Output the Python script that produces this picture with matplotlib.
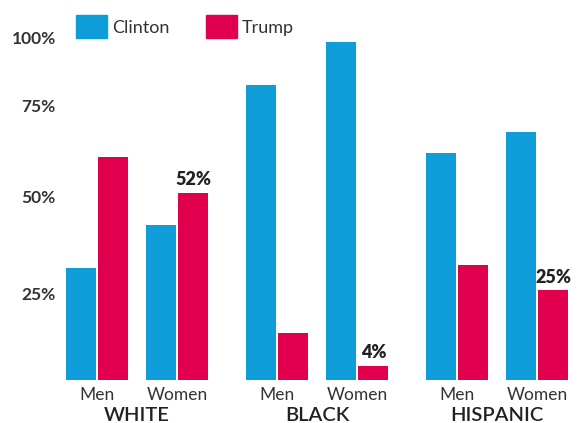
import matplotlib.pyplot as plt
import matplotlib.transforms as mtransforms
from matplotlib.patches import Patch

# 2016 exit poll shares by race and gender
groups = ['WHITE', 'BLACK', 'HISPANIC']
genders = ['Men', 'Women']
clinton = [31, 43, 82, 94, 63, 69]
trump = [62, 52, 13, 4, 32, 25]
callouts = {1: '52%', 3: '4%', 5: '25%'}   # index -> label over the Trump bar
ytick_vals = [25, 50, 75, 100]
ytick_labels = ['25%', '50%', '75%', '100%']

blue = '#0f9dd9'
red = '#e0004d'
plt.rcParams['font.family'] = ['Lato', 'DejaVu Sans']

# pair positions: men/women one unit apart, extra gap between race groups
pos = []
for g in range(len(groups)):
    for k in range(len(genders)):
        pos.append(g * 2.25 + k)

fig = plt.figure(figsize=(5.84, 4.23), dpi=100)
ax = fig.add_axes([60 / 584, 43 / 423, 520 / 584, 360 / 423])

w = 0.375
off = 0.205
ax.bar([p - off for p in pos], clinton, width=w, color=blue)
ax.bar([p + off for p in pos], trump, width=w, color=red)

for i, txt in callouts.items():
    ax.text(pos[i] + off, trump[i] + 1.2, txt, ha='center', va='bottom',
            fontsize=13, fontweight='heavy', color='#222222')

ax.set_xlim(-0.4625, 6.0375)
ax.set_ylim(0, 100)
for s in ax.spines.values():
    s.set_visible(False)

ax.set_yticks(ytick_vals)
ax.set_yticklabels(ytick_labels, fontsize=12.5, fontweight='bold', color='#333333')
ax.tick_params(axis='y', length=0, pad=3)
# labels sit slightly off their gridline positions in the original
shifts = [-3, 4, 4, -18]
for lab, dy in zip(ax.get_yticklabels(), shifts):
    lab.set_transform(lab.get_transform() + mtransforms.ScaledTranslation(0, dy / 100, fig.dpi_scale_trans))

ax.set_xticks(pos)
ax.set_xticklabels(genders * len(groups), fontsize=12.5, color='#333333')
ax.tick_params(axis='x', length=0, pad=5)

for g, name in enumerate(groups):
    ax.text(g * 2.25 + 0.5, -7.5, name, ha='center', va='top', fontsize=14.5,
            fontweight='semibold', color='#222222', transform=ax.transData, clip_on=False)

handles = [Patch(color=blue, label='Clinton'), Patch(color=red, label='Trump')]
fig.legend(handles=handles, loc='upper left', bbox_to_anchor=(60 / 584, 1 + 1 / 423),
           ncol=2, frameon=False, fontsize=13, handlelength=1.7, handleheight=1.6,
           handletextpad=0.3, columnspacing=2.0, labelcolor='#333333')

fig.savefig('out.png', dpi=100)
